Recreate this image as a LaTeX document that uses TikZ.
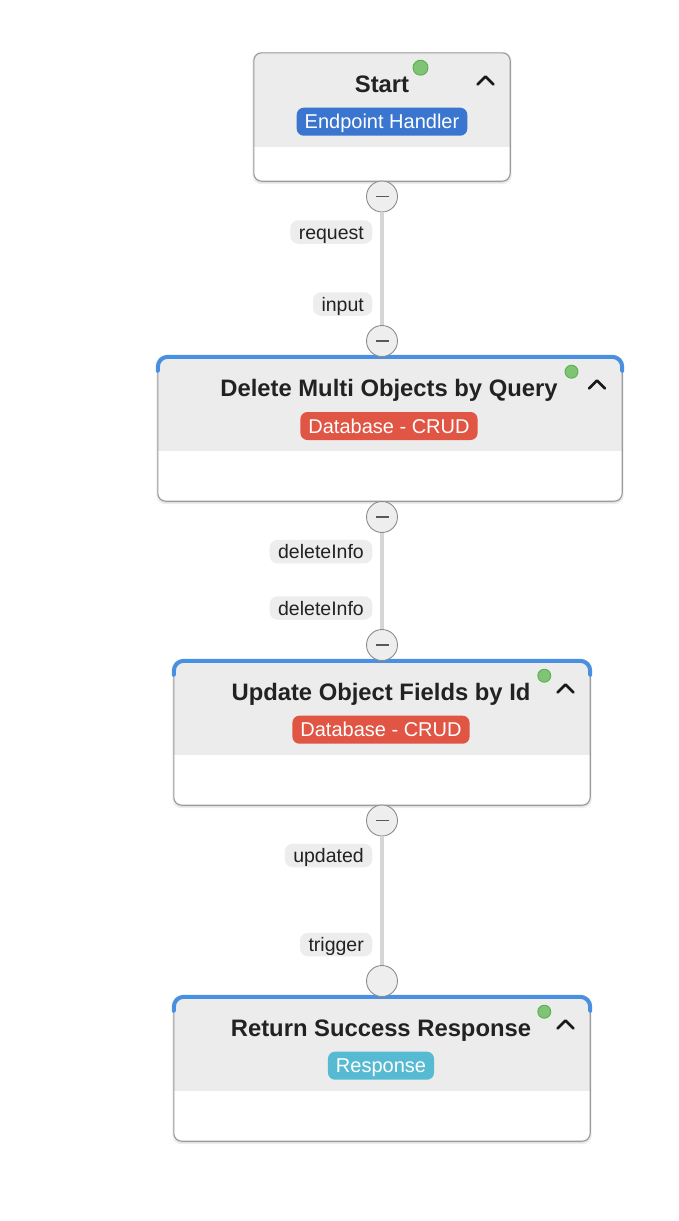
\documentclass[tikz,border=0pt]{standalone}
\usepackage{fontspec}
\setmainfont{Liberation Sans}
\definecolor{hdr}{HTML}{ECECEC}
\definecolor{boxline}{HTML}{9C9C9C}
\definecolor{topblue}{HTML}{4A90E2}
\definecolor{bdgblue}{HTML}{3A76CF}
\definecolor{bdgred}{HTML}{E05544}
\definecolor{bdgcyan}{HTML}{57BAD3}
\definecolor{dotfill}{HTML}{7FC374}
\definecolor{dotline}{HTML}{5EAE52}
\definecolor{pillc}{HTML}{EDEDED}
\definecolor{labc}{HTML}{222222}
\definecolor{connc}{HTML}{D6D6D6}
\definecolor{handlef}{HTML}{EEEEEE}
\definecolor{handlel}{HTML}{8C8C8C}
\definecolor{titlec}{HTML}{222222}
\begin{document}
\begin{tikzpicture}[x=1pt,y=-1pt,
  box/.style={draw=none, fill=none, inner sep=0pt},
  boxshadow/.style={fill=black, opacity=0.07, rounded corners=9pt},
  boxbody/.style={fill=white, rounded corners=8pt},
  boxedge/.style={draw=boxline, line width=1.1pt, rounded corners=8pt},
  bluetop/.style={draw=topblue, line width=4pt, line cap=round, rounded corners=10pt},
  title/.style={anchor=base, text=titlec, inner sep=0pt, font=\fontsize{23.8}{28}\selectfont\bfseries},
  badge/.style={rounded corners=7pt, text=white, inner xsep=8pt, inner ysep=0pt,
    text height=14.5pt, text depth=0pt, minimum height=28pt, font=\fontsize{20}{24}\selectfont},
  pill/.style={fill=pillc, rounded corners=8pt, text=labc, inner xsep=8.5pt, inner ysep=0pt,
    text height=14.5pt, text depth=0pt, minimum height=23.5pt, anchor=east, font=\fontsize{19.5}{23}\selectfont},
  handle/.style={circle, draw=handlel, line width=0.9pt, fill=handlef, minimum size=31pt, inner sep=0pt},
  minus/.style={handle, path picture={\draw[line width=1.6pt, draw=black!65]
      ([xshift=-6.5pt]path picture bounding box.center) -- ([xshift=6.5pt]path picture bounding box.center);}},
  dot/.style={circle, fill=dotfill, draw=dotline, line width=0.9pt, minimum size=13pt, inner sep=0pt},
  caret/.style={draw=black!90, line width=2.6pt, line cap=round, line join=round},
  conn/.style={draw=connc, line width=4.5pt}
]
\useasboundingbox[fill=white] (0,0) rectangle (679,1221);

% ---------- Box 1 : Start ----------
\node[box, minimum width=256pt, minimum height=128pt] (n1) at (382,117) {};
\fill[boxshadow] ([xshift=-1.5pt,yshift=-3pt]n1.south west) rectangle ([xshift=1.5pt,yshift=1pt]n1.north east);
\fill[boxshadow] ([xshift=-0.5pt,yshift=-1.5pt]n1.south west) rectangle ([xshift=0.5pt]n1.north east);
\fill[boxbody] (n1.north west) rectangle (n1.south east);
\begin{scope}
  \clip[rounded corners=8pt] (n1.north west) rectangle (n1.south east);
  \fill[hdr] (n1.north west) rectangle (n1.east |- 0,147);
\end{scope}
\draw[boxedge] (n1.north west) rectangle (n1.south east);
\node[title] (t1) at (382,92) {Start};
\node[badge, fill=bdgblue] (b1) at (382,121.7) {Endpoint Handler};
\node[dot, minimum size=15pt] (d1) at (420.5,67.7) {};
\draw[caret] (485.5,80) ++(-8,4.5) -- ++(8,-8) -- ++(8,8);

% ---------- Box 2 : Delete Multi Objects by Query ----------
\node[box, minimum width=464pt, minimum height=144pt] (n2) at (390,429) {};
\fill[boxshadow] ([xshift=-1.5pt,yshift=-3pt]n2.south west) rectangle ([xshift=1.5pt,yshift=1pt]n2.north east);
\fill[boxshadow] ([xshift=-0.5pt,yshift=-1.5pt]n2.south west) rectangle ([xshift=0.5pt]n2.north east);
\fill[boxbody] (n2.north west) rectangle (n2.south east);
\begin{scope}
  \clip[rounded corners=8pt] (n2.north west) rectangle (n2.south east);
  \fill[hdr] (n2.north west) rectangle (n2.east |- 0,451);
\end{scope}
\draw[boxedge] (n2.north west) rectangle (n2.south east);
\draw[bluetop] ([yshift=-14pt]n2.north west) -- (n2.north west) -- (n2.north east) -- ([yshift=-14pt]n2.north east);
\node[title] (t2) at (389,396) {Delete Multi Objects by Query};
\node[badge, fill=bdgred] (b2) at (389,426) {Database - CRUD};
\node[dot] (d2) at (571.5,371.7) {};
\draw[caret] (597,384) ++(-8,4.5) -- ++(8,-8) -- ++(8,8);

% ---------- Box 3 : Update Object Fields by Id ----------
\node[box, minimum width=416pt, minimum height=144pt] (n3) at (382,733) {};
\fill[boxshadow] ([xshift=-1.5pt,yshift=-3pt]n3.south west) rectangle ([xshift=1.5pt,yshift=1pt]n3.north east);
\fill[boxshadow] ([xshift=-0.5pt,yshift=-1.5pt]n3.south west) rectangle ([xshift=0.5pt]n3.north east);
\fill[boxbody] (n3.north west) rectangle (n3.south east);
\begin{scope}
  \clip[rounded corners=8pt] (n3.north west) rectangle (n3.south east);
  \fill[hdr] (n3.north west) rectangle (n3.east |- 0,755);
\end{scope}
\draw[boxedge] (n3.north west) rectangle (n3.south east);
\draw[bluetop] ([yshift=-14pt]n3.north west) -- (n3.north west) -- (n3.north east) -- ([yshift=-14pt]n3.north east);
\node[title] (t3) at (381,700) {Update Object Fields by Id};
\node[badge, fill=bdgred] (b3) at (381,729.7) {Database - CRUD};
\node[dot] (d3) at (544.3,675.7) {};
\draw[caret] (565.5,688) ++(-8,4.5) -- ++(8,-8) -- ++(8,8);

% ---------- Box 4 : Return Success Response ----------
\node[box, minimum width=416pt, minimum height=144pt] (n4) at (382,1069) {};
\fill[boxshadow] ([xshift=-1.5pt,yshift=-3pt]n4.south west) rectangle ([xshift=1.5pt,yshift=1pt]n4.north east);
\fill[boxshadow] ([xshift=-0.5pt,yshift=-1.5pt]n4.south west) rectangle ([xshift=0.5pt]n4.north east);
\fill[boxbody] (n4.north west) rectangle (n4.south east);
\begin{scope}
  \clip[rounded corners=8pt] (n4.north west) rectangle (n4.south east);
  \fill[hdr] (n4.north west) rectangle (n4.east |- 0,1091);
\end{scope}
\draw[boxedge] (n4.north west) rectangle (n4.south east);
\draw[bluetop] ([yshift=-14pt]n4.north west) -- (n4.north west) -- (n4.north east) -- ([yshift=-14pt]n4.north east);
\node[title] (t4) at (381,1036) {Return Success Response};
\node[badge, fill=bdgcyan] (b4) at (381,1065.7) {Response};
\node[dot] (d4) at (544.3,1011.7) {};
\draw[caret] (565.5,1024) ++(-8,4.5) -- ++(8,-8) -- ++(8,8);

% ---------- Handles ----------
\node[minus] (h1) at (382,196.5) {};
\node[minus] (h2) at (382,341) {};
\node[minus] (h3) at (382,517) {};
\node[minus] (h4) at (382,645) {};
\node[minus] (h5) at (382,820.5) {};
\node[handle] (h6) at (382,981) {};

% ---------- Connectors ----------
\draw[conn] (h1) -- (h2);
\draw[conn] (h3) -- (h4);
\draw[conn] (h5) -- (h6);

% ---------- Port labels ----------
\node[pill] (l1) at (372.5,232) {request};
\node[pill] (l2) at (372.5,304) {input};
\node[pill] (l3) at (372.5,551.7) {deleteInfo};
\node[pill] (l4) at (372.5,608) {deleteInfo};
\node[pill] (l5) at (372.5,855.5) {updated};
\node[pill] (l6) at (372.5,944.5) {trigger};
\end{tikzpicture}
\end{document}
